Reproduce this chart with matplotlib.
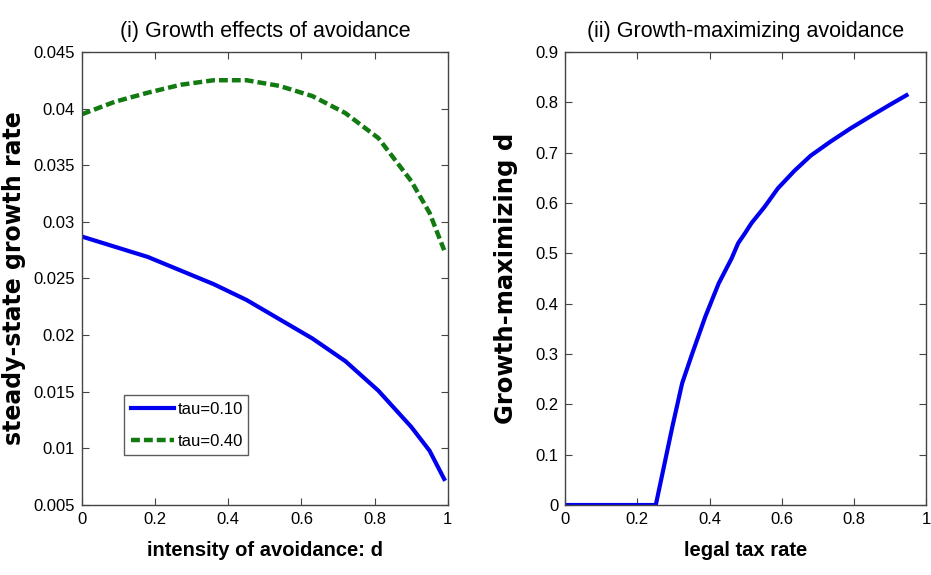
import numpy as np
import matplotlib.pyplot as plt

# panel (i): growth rate vs avoidance intensity d
d = [0.0, 0.09, 0.18, 0.27, 0.36, 0.45, 0.54, 0.63, 0.72, 0.81, 0.90, 0.95, 0.99]
g_tau10 = [0.0287, 0.0278, 0.0269, 0.0257, 0.0245, 0.0231, 0.0214, 0.0197, 0.0177, 0.0151,
           0.0119, 0.0098, 0.0073]
g_tau40 = [0.0395, 0.0406, 0.0414, 0.0421, 0.0425, 0.0425, 0.0420, 0.0411, 0.0396, 0.0374,
           0.0336, 0.0308, 0.0275]

# panel (ii): growth-maximizing d vs legal tax rate
tax = [0.0, 0.251, 0.297, 0.324, 0.352, 0.388, 0.425, 0.461, 0.479, 0.498, 0.516, 0.553,
       0.589, 0.635, 0.680, 0.735, 0.790, 0.845, 0.899, 0.945]
d_max = [0.0, 0.0, 0.156, 0.242, 0.301, 0.374, 0.440, 0.490, 0.520, 0.540, 0.560, 0.593,
         0.629, 0.664, 0.694, 0.722, 0.748, 0.772, 0.795, 0.814]

plt.rcParams['font.family'] = ['Liberation Sans', 'DejaVu Sans']
wide = ['DejaVu Sans']

fig = plt.figure(figsize=(9.31, 5.75), dpi=100)
ax1 = fig.add_axes([0.088, 0.1217, 0.393, 0.788])
ax2 = fig.add_axes([0.607, 0.1217, 0.388, 0.788])

ax1.plot(d, g_tau10, color='#0000ee', lw=3, label='tau=0.10')
ax1.plot(d, g_tau40, color='#117a11', lw=3.2, ls=(0, (2.0, 0.9)), label='tau=0.40')
ax1.set_xlim(0, 1)
ax1.set_ylim(0.005, 0.045)
ax1.set_xticks([0, 0.2, 0.4, 0.6, 0.8, 1])
ax1.set_xticklabels(['0', '0.2', '0.4', '0.6', '0.8', '1'])
ax1.set_yticks(np.arange(0.005, 0.0451, 0.005))
ax1.set_yticklabels(['0.005', '0.01', '0.015', '0.02', '0.025', '0.03', '0.035', '0.04', '0.045'])
ax1.set_title('(i) Growth effects of avoidance', fontsize=15.5, pad=11)
ax1.set_xlabel('intensity of avoidance: d', fontsize=14.5, fontweight='bold', labelpad=10)
ax1.set_ylabel('steady-state growth rate', fontsize=17, fontweight='bold',
               family=wide, labelpad=5)
leg = ax1.legend(loc='lower left', bbox_to_anchor=(0.115, 0.11, 0.34, 0.19), mode='expand',
                 fontsize=12, frameon=True, fancybox=False, edgecolor='#333333',
                 handlelength=2.6, handletextpad=0.2, labelspacing=1.0, borderaxespad=0)
leg.get_frame().set_linewidth(1.0)

ax2.plot(tax, d_max, color='#0000ee', lw=3)
ax2.set_xlim(0, 1)
ax2.set_ylim(0, 0.9)
ax2.set_xticks([0, 0.2, 0.4, 0.6, 0.8, 1])
ax2.set_xticklabels(['0', '0.2', '0.4', '0.6', '0.8', '1'])
ax2.set_yticks(np.arange(0, 0.91, 0.1))
ax2.set_yticklabels(['0', '0.1', '0.2', '0.3', '0.4', '0.5', '0.6', '0.7', '0.8', '0.9'])
ax2.set_title('(ii) Growth-maximizing avoidance', fontsize=15.5, pad=11)
ax2.set_xlabel('legal tax rate', fontsize=14.5, fontweight='bold', labelpad=10)
ax2.set_ylabel('Growth-maximizing d', fontsize=17.5, fontweight='bold',
               family=wide, labelpad=12)

for ax in (ax1, ax2):
    ax.tick_params(direction='in', top=True, right=True, length=5, width=0.8,
                   labelsize=12, color='#444444', pad=5)
    for s in ax.spines.values():
        s.set_color('#444444')
        s.set_linewidth(1.0)

fig.savefig('out.png', dpi=100)
